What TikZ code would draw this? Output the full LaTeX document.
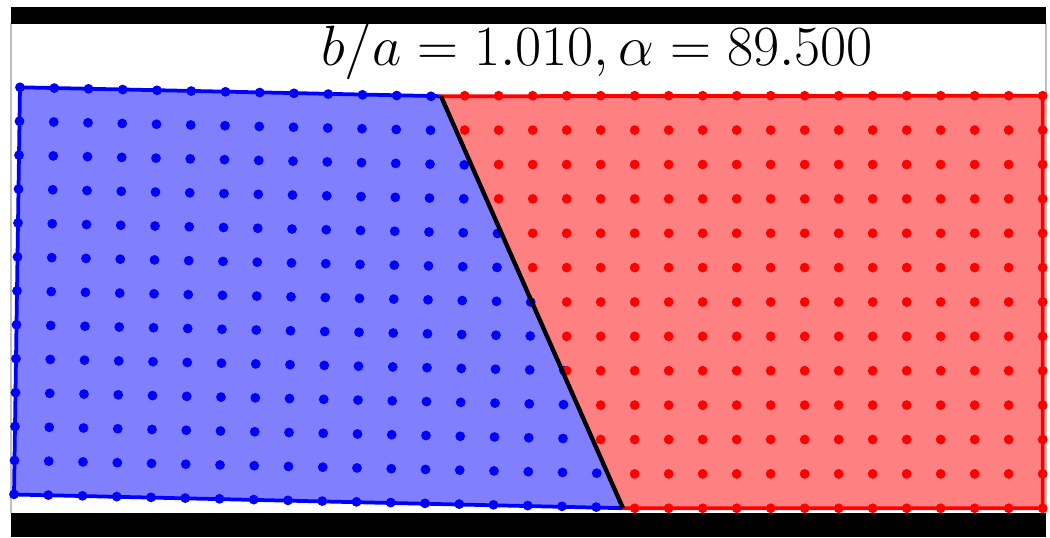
\documentclass[tikz,border=0pt]{standalone}
\usetikzlibrary{calc}

\begin{document}
\begin{tikzpicture}[x=0.2mm, y=-0.2mm,
  edge/.style={line width=0.75mm, line join=round},
  bluedot/.style={fill=blue},
  reddot/.style={fill=red}]
  \useasboundingbox (0,0) rectangle (1050,537);
  % frame of the video
  \draw[gray!50, line width=0.3mm] (11,23) -- (11,513) (1046,23) -- (1046,513);
  \fill[black] (11,7) rectangle (1046,23.5);
  \fill[black] (11,513) rectangle (1046,537);
  % corners of the two grains
  \coordinate (btl) at (20,87.3);
  \coordinate (bbl) at (14,494.5);
  \coordinate (top) at (441,96.2);
  \coordinate (bot) at (623,508.2);
  \coordinate (rtr) at (1042.7,95.7);
  \coordinate (rbr) at (1042.7,508.3);
  \filldraw[edge, draw=blue, fill=blue!50] (btl) -- (top) -- (bot) -- (bbl) -- cycle;
  \filldraw[edge, draw=red, fill=red!50] (top) -- (rtr) -- (rbr) -- (bot) -- cycle;
  % blue lattice
  \foreach \j in {0,...,12}{
    \foreach \i in {0,...,17}{
      \pgfmathsetmacro{\bx}{20-0.5*\j+34.25*\i}
      \pgfmathsetmacro{\by}{87.3+33.92*\j+0.75*\i}
      \pgfmathsetmacro{\cut}{443+(\by-96)*0.4417}
      \pgfmathtruncatemacro{\isin}{\bx<\cut}
      \ifnum\isin=1 \fill[bluedot] (\bx,\by) circle[radius=0.98mm]; \fi
    }
  }
  % red lattice
  \foreach \j in {0,...,12}{
    \foreach \k in {0,...,17}{
      \pgfmathsetmacro{\rx}{1042.7-34*\k}
      \pgfmathsetmacro{\ry}{95.7+34.38*\j}
      \pgfmathsetmacro{\cut}{443+(\ry-96)*0.4417}
      \pgfmathtruncatemacro{\isin}{\rx>\cut}
      \ifnum\isin=1 \fill[reddot] (\rx,\ry) circle[radius=0.98mm]; \fi
    }
  }
  % boundary
  \draw[line width=0.85mm] (top) -- (bot);
  \node[font=\Huge, scale=1.3] (title) at (597,51) {$b/a = 1.010, \alpha = 89.500$};
\end{tikzpicture}
\end{document}
